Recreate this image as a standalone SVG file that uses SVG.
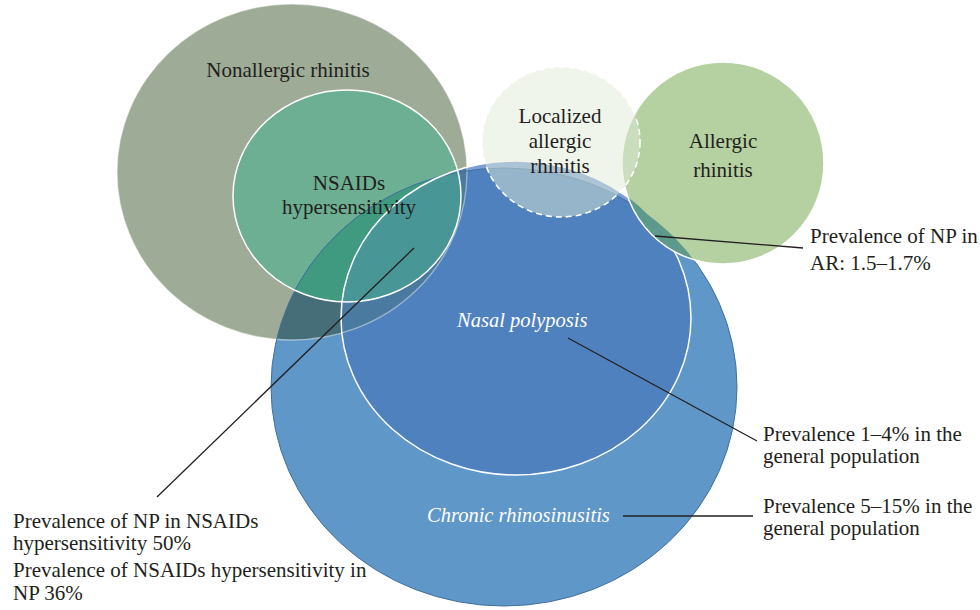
<svg xmlns="http://www.w3.org/2000/svg" width="980" height="610" viewBox="0 0 980 610">
<style>
.lbl{font-family:"Liberation Serif","Times New Roman",serif;font-size:21px;fill:#231f20}
.ital{font-family:"Liberation Serif","Times New Roman",serif;font-size:20.5px;font-style:italic;fill:#ffffff}
.lead{stroke:#231f20;stroke-width:1.3;fill:none}
</style>
<defs>
<clipPath id="cNA"><ellipse cx="292" cy="172" rx="175" ry="168"/></clipPath>
<clipPath id="cNS"><ellipse cx="347" cy="196" rx="114" ry="106"/></clipPath>
<clipPath id="cCRS"><ellipse cx="504" cy="387" rx="233" ry="219"/></clipPath>
<clipPath id="cBlue"><ellipse cx="504" cy="387" rx="233" ry="219"/><ellipse cx="516" cy="318" rx="175" ry="157"/></clipPath>
</defs>
<rect width="980" height="610" fill="#ffffff"/>
<g id="nonallergic-rhinitis">
<ellipse cx="292" cy="172" rx="175" ry="168" fill="#9eab96"/>
</g>
<g id="nsaids-hypersensitivity">
<ellipse cx="347" cy="196" rx="114" ry="106" fill="#6caf92"/>
</g>
<g id="chronic-rhinosinusitis">
<ellipse cx="504" cy="387" rx="233" ry="219" fill="#5f97c9"/>
</g>
<g id="nasal-polyposis">
<ellipse cx="516" cy="318" rx="175" ry="157" fill="#7d9fd6"/>
<ellipse cx="516" cy="318" rx="175" ry="157" fill="#5081bf" clip-path="url(#cCRS)"/>
</g>
<g id="overlaps">
<ellipse cx="504" cy="387" rx="233" ry="219" fill="#466e78" clip-path="url(#cNA)"/>
<ellipse cx="516" cy="318" rx="175" ry="157" fill="#4a7aa0" clip-path="url(#cNA)"/>
<ellipse cx="504" cy="387" rx="233" ry="219" fill="#3f9a80" clip-path="url(#cNS)"/>
<ellipse cx="516" cy="318" rx="175" ry="157" fill="#489796" clip-path="url(#cNS)"/>
</g>
<g id="outlines" fill="none">
<ellipse cx="292" cy="172" rx="175" ry="168" stroke="#ffffff" stroke-opacity="0.45" stroke-width="1.3"/>
<ellipse cx="504" cy="387" rx="233" ry="219" stroke="#41709e" stroke-width="1"/>
<ellipse cx="347" cy="196" rx="114" ry="106" stroke="#ffffff" stroke-width="1.5"/>
<ellipse cx="516" cy="318" rx="175" ry="157" stroke="#ffffff" stroke-width="1.5"/>
</g>
<g id="allergic-rhinitis">
<circle cx="723" cy="163" r="101" fill="#b5d1a1"/>
<circle cx="723" cy="163" r="101" fill="#5e9a8c" clip-path="url(#cBlue)"/>
<circle cx="723" cy="163" r="101" fill="none" stroke="#ffffff" stroke-width="1.5"/>
</g>
<g id="localized-allergic-rhinitis">
<ellipse cx="561" cy="142" rx="79" ry="75" fill="#e1ebd9" fill-opacity="0.49" stroke="#ffffff" stroke-width="1.6" stroke-dasharray="6 4"/>
</g>
<g id="connectors">
<line class="lead" x1="414" y1="248" x2="157" y2="497"/>
<line class="lead" x1="655" y1="236" x2="803" y2="248"/>
<line class="lead" x1="568" y1="338" x2="757" y2="441"/>
<line class="lead" x1="623" y1="516" x2="753" y2="516" stroke-width="2.2"/>
</g>
<g id="labels">
<text class="lbl" x="288" y="77" text-anchor="middle">Nonallergic rhinitis</text>
<text class="lbl" x="349" y="190" text-anchor="middle" font-size="20.5">NSAIDs</text>
<text class="lbl" x="349" y="213.5" text-anchor="middle" font-size="20.5">hypersensitivity</text>
<text class="lbl" x="560" y="123" text-anchor="middle" font-size="20.5">Localized</text>
<text class="lbl" x="560" y="148" text-anchor="middle" font-size="20.5">allergic</text>
<text class="lbl" x="560" y="173" text-anchor="middle" font-size="20.5">rhinitis</text>
<text class="lbl" x="723" y="148" text-anchor="middle" font-size="20.5">Allergic</text>
<text class="lbl" x="723" y="177" text-anchor="middle" font-size="20.5">rhinitis</text>
<text class="ital" x="457" y="327" font-size="20">Nasal polyposis</text>
<text class="ital" x="427" y="522">Chronic rhinosinusitis</text>
<text class="lbl" x="810" y="243">Prevalence of NP in</text>
<text class="lbl" x="810" y="270">AR: 1.5–1.7%</text>
<text class="lbl" x="763" y="441">Prevalence 1–4% in the</text>
<text class="lbl" x="763" y="463">general population</text>
<text class="lbl" x="763" y="513">Prevalence 5–15% in the</text>
<text class="lbl" x="763" y="535">general population</text>
<text class="lbl" x="13" y="528">Prevalence of NP in NSAIDs</text>
<text class="lbl" x="13" y="550">hypersensitivity 50%</text>
<text class="lbl" x="13" y="577">Prevalence of NSAIDs hypersensitivity in</text>
<text class="lbl" x="13" y="600">NP 36%</text>
</g>
</svg>
